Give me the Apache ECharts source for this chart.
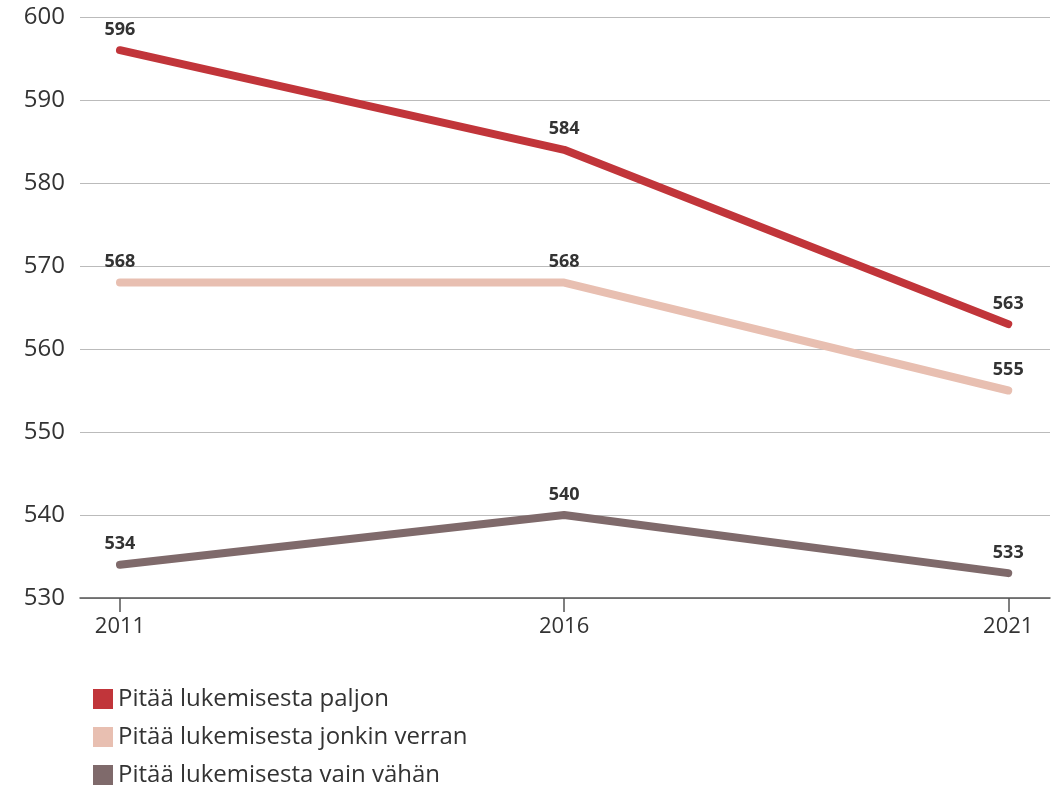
<!DOCTYPE html>
<html><head><meta charset="utf-8">
<script src="https://cdn.jsdelivr.net/npm/echarts@6/dist/echarts.min.js"></script>
<style>html,body{margin:0;padding:0;background:#fff}#c{width:1063px;height:785px}</style>
</head><body><div id="c"></div>
<script>
const years = [2011, 2016, 2021];
const seriesNames = ['Pitää lukemisesta paljon', 'Pitää lukemisesta jonkin verran', 'Pitää lukemisesta vain vähän'];
const paljon = [596, 584, 563];
const jonkin = [568, 568, 555];
const vahan = [534, 540, 533];
const colors = ['#c1353a', '#e8bfb1', '#7f6a6b'];
const yTicks = [530, 540, 550, 560, 570, 580, 590, 600];

const font = '"Open Sans", "Noto Sans", sans-serif';
const chart = echarts.init(document.getElementById('c'), null, {renderer: 'canvas'});
function mk(name, vals, color) {
  return {
    name, type: 'line', data: years.map((y, i) => [y, vals[i]]),
    symbol: 'circle', symbolSize: 1, showSymbol: true,
    lineStyle: {width: 8, color, cap: 'round', join: 'round'},
    itemStyle: {color}, silent: true,
    label: {show: true, position: 'top', distance: 11, fontFamily: font, fontWeight: 'bold', fontSize: 18, color: '#333',
      formatter: p => p.value[1]}
  };
}
chart.setOption({
  animation: false,
  backgroundColor: '#fff',
  grid: {left: 80, right: 13, top: 17, bottom: 187},
  xAxis: {
    type: 'value', min: 2010.55, max: 2021.47,
    axisLine: {show: true, lineStyle: {color: '#555', width: 1.5}},
    axisTick: {show: true, customValues: years, length: 14, inside: false, lineStyle: {color: '#555', width: 1.5}},
    axisLabel: {customValues: years, fontFamily: font, fontSize: 22, color: '#333', margin: 18, formatter: v => String(v)},
    splitLine: {show: false}
  },
  yAxis: {
    type: 'value', min: 530, max: 600, interval: 10,
    axisLine: {show: false}, axisTick: {show: false},
    axisLabel: {fontFamily: font, fontSize: 24, color: '#333', margin: 15},
    splitLine: {lineStyle: {color: '#bbb', width: 1.2}}
  },
  legend: {
    orient: 'vertical', left: 93, top: 687, height: 120, padding: 0, itemWidth: 20, itemHeight: 20, itemGap: 14,
    icon: 'rect', textStyle: {fontFamily: font, fontSize: 24, lineHeight: 20, color: '#333', padding: [0,0,0,0]},
    data: seriesNames
  },
  series: [mk(seriesNames[0], paljon, colors[0]), mk(seriesNames[1], jonkin, colors[1]), mk(seriesNames[2], vahan, colors[2])]
});
</script></body></html>
